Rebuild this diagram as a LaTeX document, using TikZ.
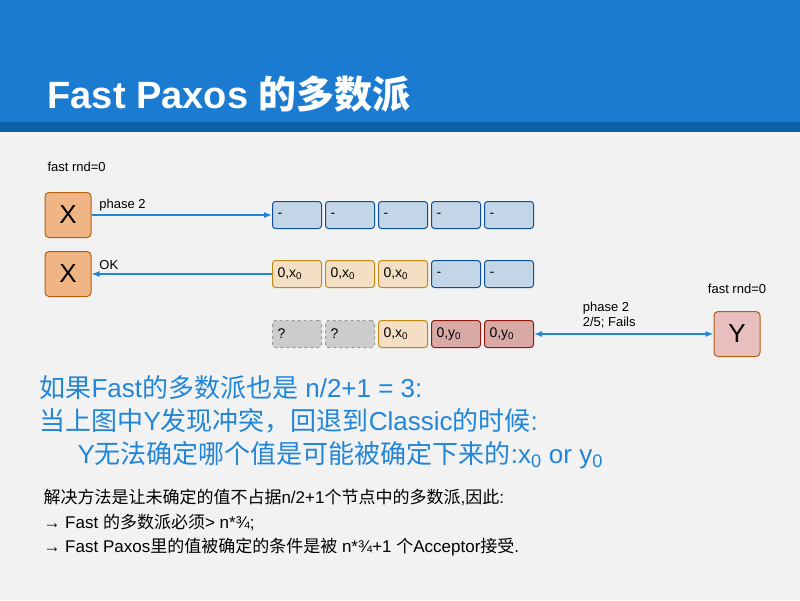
\documentclass[tikz,border=0pt]{standalone}
\usepackage{fontspec}
\setmainfont{Liberation Sans}
\newfontfamily\cjk{Noto Sans CJK SC}
\usetikzlibrary{arrows.meta}
\definecolor{bg}{HTML}{F2F2F2}
\definecolor{hdr}{HTML}{1A7BD0}
\definecolor{hdrd}{HTML}{0F5FA8}
\definecolor{blu}{HTML}{2185D8}
\definecolor{accb}{HTML}{C3D6E7}\definecolor{accbd}{HTML}{0D4F96}
\definecolor{acco}{HTML}{F5DFC4}\definecolor{accod}{HTML}{C08A12}
\definecolor{accr}{HTML}{D9A9A5}\definecolor{accrd}{HTML}{8E1A12}
\definecolor{accg}{HTML}{CCCCCC}\definecolor{accgd}{HTML}{999999}
\definecolor{prop}{HTML}{F0B584}\definecolor{propd}{HTML}{B5600F}
\definecolor{propy}{HTML}{E8BEBE}
\newcommand{\sbz}{\textsubscript{0}}
\begin{document}
\begin{tikzpicture}[x=1pt,y=-1pt,
 acc/.style={draw,rounded corners=3pt,line width=1pt,minimum width=49pt,minimum height=27pt,inner sep=0pt,font=\fontsize{14}{14}\selectfont,anchor=center,text width=39pt,align=left},
 ab/.style={acc,fill=accb,draw=accbd},
 ao/.style={acc,fill=acco,draw=accod},
 ar/.style={acc,fill=accr,draw=accrd},
 ag/.style={acc,fill=accg,draw=accgd,dashed},
 pr/.style={draw=propd,rounded corners=4pt,line width=1pt,minimum width=46pt,minimum height=45pt,font=\fontsize{26}{26}\selectfont},
 arr/.style={draw=blu,line width=1.2pt,-{Latex[length=8pt,width=6pt,open,fill=blu]}},
 lbl/.style={font=\fontsize{13}{15}\selectfont,anchor=south west,align=left}]
\fill[bg] (0,0) rectangle (800,600);
\fill[hdr] (0,0) rectangle (800,122);
\fill[hdrd] (0,122) rectangle (800,132);
\node[anchor=west,text=white,font=\fontsize{38}{38}\selectfont\bfseries] (title) at (44,94) {Fast Paxos {\cjk 的多数派}};
\node[anchor=west,font=\fontsize{13}{13}\selectfont] (f1) at (44,167) {fast rnd=0};
\node[pr,fill=prop] (x1) at (68,215) {X};
\node[pr,fill=prop] (x2) at (68,274) {X};
\node[pr,fill=propy] (y) at (737,334) {Y};
\node[anchor=south,font=\fontsize{13}{13}\selectfont] (f2) at (737,297) {fast rnd=0};
\foreach \i/\x in {1/297,2/350,3/403,4/456,5/509}{\node[ab] (a\i) at (\x,215) {-};}
\node[ao] (b1) at (297,274) {0,x\sbz};
\node[ao] (b2) at (350,274) {0,x\sbz};
\node[ao] (b3) at (403,274) {0,x\sbz};
\node[ab] (b4) at (456,274) {-};
\node[ab] (b5) at (509,274) {-};
\node[ag] (c1) at (297,334) {?};
\node[ag] (c2) at (350,334) {?};
\node[ao] (c3) at (403,334) {0,x\sbz};
\node[ar] (c4) at (456,334) {0,y\sbz};
\node[ar] (c5) at (509,334) {0,y\sbz};
\draw[arr] (x1) -- node[lbl,pos=0,anchor=south west,xshift=4pt] {phase 2} (a1);
\draw[arr] (b1) -- node[lbl,pos=1,anchor=south west,xshift=4pt] {OK} (x2);
\draw[arr,{Latex[length=8pt,width=6pt,open,fill=blu]}-{Latex[length=8pt,width=6pt,open,fill=blu]}] (c5) -- node[lbl,pos=0.25,anchor=south west,yshift=2pt] {phase 2\\2/5; Fails} (y);
\begin{scope}[every node/.style={anchor=west,text=blu,font=\fontsize{26}{26}\selectfont}]
\node (t1) at (36,388) {{\cjk 如果}Fast{\cjk 的多数派也是} n/2+1 = 3:};
\node (t2) at (36,421) {{\cjk 当上图中}Y{\cjk 发现冲突，回退到}Classic{\cjk 的时候}:};
\node (t3) at (74,455) {Y{\cjk 无法确定哪个值是可能被确定下来的}:x\sbz{} or y\sbz};
\end{scope}
\begin{scope}[every node/.style={anchor=west,font=\fontsize{17}{17}\selectfont}]
\node (u1) at (40,497) {{\cjk 解决方法是让未确定的值不占据}n/2+1{\cjk 个节点中的多数派},{\cjk 因此}:};
\node (u2) at (40,522) {→ Fast {\cjk 的多数派必须}> n*¾;};
\node (u3) at (40,547) {→ Fast Paxos{\cjk 里的值被确定的条件是被} n*¾+1 {\cjk 个}Acceptor{\cjk 接受}.};
\end{scope}
\end{tikzpicture}
\end{document}
